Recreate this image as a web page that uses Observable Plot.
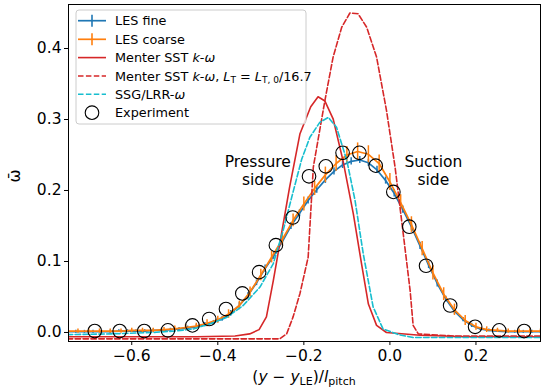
<!DOCTYPE html>
<html><head><meta charset="utf-8">
<script src="https://cdn.jsdelivr.net/npm/d3@7"></script>
<script src="https://cdn.jsdelivr.net/npm/@observablehq/plot@0.6"></script>
<style>
html,body{margin:0;padding:0;background:#fff;}
#chart{width:541px;height:392px;}
</style></head><body><div id="chart"></div>
<script>
// ---------- DATA ----------
const lesFineX = [-0.75,-0.73,-0.71,-0.69,-0.67,-0.65,-0.63,-0.61,-0.59,-0.57,-0.55,-0.53,-0.51,-0.49,-0.47,-0.45,-0.43,-0.41,-0.39,-0.37,-0.35,-0.33,-0.31,-0.29,-0.27,-0.25,-0.23,-0.21,-0.19,-0.17,-0.15,-0.13,-0.11,-0.09,-0.07,-0.05,-0.03,-0.01,0.01,0.03,0.05,0.07,0.09,0.11,0.13,0.15,0.17,0.19,0.21,0.23,0.25,0.27,0.29,0.31,0.33,0.35];
const lesFineY = [0.001,0.001,0.001,0.001,0.001,0.001,0.002,0.002,0.002,0.002,0.003,0.003,0.004,0.005,0.006,0.008,0.011,0.014,0.019,0.027,0.038,0.052,0.070,0.090,0.108,0.128,0.150,0.168,0.186,0.201,0.215,0.227,0.236,0.241,0.243,0.239,0.229,0.214,0.196,0.173,0.149,0.122,0.095,0.069,0.047,0.030,0.018,0.010,0.005,0.003,0.002,0.001,0.001,0.001,0.001,0.001];
const lesFineErr = [0.002,0.002,0.002,0.002,0.002,0.002,0.002,0.002,0.002,0.002,0.002,0.002,0.002,0.002,0.003,0.003,0.003,0.003,0.003,0.004,0.004,0.004,0.004,0.005,0.005,0.005,0.005,0.005,0.005,0.005,0.005,0.005,0.005,0.005,0.005,0.005,0.005,0.005,0.005,0.005,0.005,0.005,0.005,0.005,0.004,0.004,0.003,0.003,0.002,0.002,0.002,0.002,0.002,0.002,0.002,0.002];

const lesCoarseX = [-0.75,-0.725,-0.70,-0.675,-0.65,-0.625,-0.60,-0.575,-0.55,-0.525,-0.50,-0.475,-0.45,-0.425,-0.40,-0.375,-0.35,-0.325,-0.30,-0.275,-0.25,-0.225,-0.20,-0.175,-0.15,-0.125,-0.10,-0.075,-0.05,-0.025,0.0,0.025,0.05,0.075,0.10,0.125,0.15,0.175,0.20,0.225,0.25,0.275,0.30,0.325,0.35];
const lesCoarseY = [0.002,0.002,0.002,0.002,0.002,0.002,0.003,0.003,0.003,0.004,0.005,0.007,0.009,0.013,0.018,0.026,0.038,0.057,0.081,0.106,0.131,0.158,0.181,0.203,0.222,0.238,0.250,0.255,0.251,0.238,0.212,0.183,0.152,0.118,0.084,0.054,0.032,0.017,0.008,0.004,0.003,0.002,0.002,0.002,0.002];
const lesCoarseErr = [0.003,0.003,0.003,0.003,0.003,0.003,0.003,0.003,0.003,0.003,0.004,0.004,0.004,0.005,0.005,0.006,0.006,0.007,0.008,0.008,0.009,0.009,0.010,0.010,0.011,0.011,0.012,0.012,0.012,0.012,0.012,0.011,0.011,0.010,0.010,0.009,0.008,0.007,0.005,0.004,0.003,0.003,0.003,0.003,0.003];

const sstX = [-0.75,-0.60,-0.45,-0.36,-0.326,-0.304,-0.287,-0.271,-0.256,-0.233,-0.209,-0.184,-0.167,-0.151,-0.132,-0.109,-0.085,-0.066,-0.050,-0.031,-0.008,0.07,0.178,0.35];
const sstY = [-0.006,-0.006,-0.006,-0.005,-0.002,0.004,0.022,0.073,0.125,0.205,0.280,0.318,0.332,0.326,0.301,0.242,0.167,0.097,0.040,0.010,0.000,-0.004,-0.006,-0.006];

const sstLtX = [-0.75,-0.50,-0.30,-0.256,-0.240,-0.225,-0.209,-0.190,-0.178,-0.151,-0.132,-0.112,-0.093,-0.074,-0.054,-0.031,-0.008,0.012,0.031,0.047,0.054,0.066,0.15,0.35];
const sstLtY = [-0.009,-0.009,-0.009,-0.009,-0.002,0.022,0.055,0.106,0.233,0.327,0.388,0.430,0.450,0.449,0.430,0.388,0.313,0.233,0.139,0.059,0.010,-0.002,-0.005,-0.005];

const ssgX = [-0.75,-0.65,-0.55,-0.50,-0.457,-0.419,-0.380,-0.341,-0.302,-0.271,-0.248,-0.225,-0.205,-0.186,-0.163,-0.143,-0.124,-0.100,-0.081,-0.062,-0.039,-0.016,0.02,0.054,0.20,0.35];
const ssgY = [-0.003,-0.002,0.000,0.002,0.005,0.012,0.021,0.038,0.064,0.097,0.144,0.198,0.244,0.275,0.296,0.303,0.289,0.242,0.186,0.111,0.036,0.005,-0.003,-0.007,-0.007,-0.007];

const expX = [-0.686,-0.628,-0.571,-0.516,-0.459,-0.420,-0.381,-0.343,-0.304,-0.265,-0.226,-0.188,-0.149,-0.110,-0.071,-0.033,0.008,0.045,0.084,0.140,0.198,0.254,0.312];
const expY = [0.002,0.002,0.002,0.003,0.010,0.019,0.033,0.055,0.085,0.123,0.162,0.220,0.234,0.253,0.253,0.235,0.198,0.149,0.094,0.038,0.008,0.003,0.002];

const xTicks = [-0.6,-0.4,-0.2,0.0,0.2];
const yTicks = [0.0,0.1,0.2,0.3,0.4];

const notes = [
  {x: -0.307, y: 0.228, text: "Pressure\nside"},
  {x: 0.101, y: 0.228, text: "Suction\nside"}
];

// ---------- BUILD ----------
const zip = (xs, ys, es) => xs.map((x, i) => ({x, y: ys[i], e: es ? es[i] : 0}));
const fine = zip(lesFineX, lesFineY, lesFineErr);
const coarse = zip(lesCoarseX, lesCoarseY, lesCoarseErr);
const sst = zip(sstX, sstY);
const sstLt = zip(sstLtX, sstLtY);
const ssg = zip(ssgX, ssgY);
const exp = zip(expX, expY);

const C = {blue:"#1f77b4", orange:"#ff7f0e", red:"#d62728", cyan:"#17becf"};
const F = "DejaVu Sans, sans-serif";
const fmt = d3.format(".1f");

const plot = Plot.plot({
  width: 541, height: 392,
  marginLeft: 68, marginRight: 1, marginTop: 4, marginBottom: 51,
  style: {fontFamily: F, fontSize: "15.5px", color: "black", background: "white"},
  x: {domain: [-0.747, 0.35], label: null},
  y: {domain: [-0.0127, 0.462], label: null},
  marks: [
    Plot.line(fine, {x: "x", y: "y", stroke: C.blue, strokeWidth: 1.7, clip: true}),
    Plot.ruleX(fine, {x: "x", y1: d => d.y - d.e, y2: d => d.y + d.e, stroke: C.blue, strokeWidth: 1.5, clip: true}),
    Plot.line(coarse, {x: "x", y: "y", stroke: C.orange, strokeWidth: 1.7, clip: true}),
    Plot.ruleX(coarse, {x: "x", y1: d => d.y - d.e, y2: d => d.y + d.e, stroke: C.orange, strokeWidth: 1.5, clip: true}),
    Plot.line(sst, {x: "x", y: "y", stroke: C.red, strokeWidth: 1.6, clip: true}),
    Plot.line(sstLt, {x: "x", y: "y", stroke: C.red, strokeWidth: 1.6, strokeDasharray: "5.5,2.4", clip: true}),
    Plot.line(ssg, {x: "x", y: "y", stroke: C.cyan, strokeWidth: 1.6, strokeDasharray: "5.5,2.4", clip: true}),
    Plot.dot(exp, {x: "x", y: "y", r: 6.8, stroke: "black", strokeWidth: 1.1, fill: "none", clip: true}),
    Plot.text(notes, {x: "x", y: "y", text: "text", fontSize: 15.5, lineHeight: 1.17, fill: "black", textAnchor: "middle"}),
    Plot.axisX({ticks: xTicks, tickFormat: fmt, tickSize: 4, tickPadding: 4, fontSize: 15.5, label: null, stroke: "black"}),
    Plot.axisY({ticks: yTicks, tickFormat: fmt, tickSize: 4, tickPadding: 3, fontSize: 15.5, label: null, stroke: "black"}),
    Plot.frame({stroke: "black", strokeWidth: 1})
  ]
});
document.getElementById("chart").appendChild(plot);

// ---------- AXIS LABELS ----------
const svg = d3.select(plot);
const xl = svg.append("text").attr("x", 304).attr("y", 382).attr("text-anchor", "middle")
  .attr("font-family", F).attr("font-size", 15.5).attr("fill", "black");
xl.append("tspan").text("(");
xl.append("tspan").attr("font-style", "italic").text("y");
xl.append("tspan").text(" − ");
xl.append("tspan").attr("font-style", "italic").text("y");
xl.append("tspan").attr("font-size", 11).attr("dy", 3).text("LE");
xl.append("tspan").attr("dy", -3).text(")/");
xl.append("tspan").attr("font-style", "italic").text("l");
xl.append("tspan").attr("font-size", 11).attr("dy", 3).text("pitch");

svg.append("text").attr("transform", "translate(20,176) rotate(-90)")
  .attr("text-anchor", "middle").attr("font-family", F).attr("font-size", 15.5).attr("fill", "black")
  .text("ω\u0304");

// ---------- LEGEND ----------
const lg = svg.append("g").attr("font-family", F).attr("font-size", 12.8).attr("fill", "black").attr("text-anchor", "start");
lg.append("rect").attr("x", 76).attr("y", 10).attr("width", 230).attr("height", 114).attr("rx", 3)
  .attr("fill", "white").attr("fill-opacity", 0.8).attr("stroke", "#cccccc").attr("stroke-width", 1);
const rows = [20.7, 39.3, 57.6, 76, 94.3, 112.7];
const hx0 = 78, hx1 = 106, tx = 115;
// LES fine
lg.append("line").attr("x1", hx0).attr("x2", hx1).attr("y1", rows[0]).attr("y2", rows[0]).attr("stroke", C.blue).attr("stroke-width", 1.7);
lg.append("line").attr("x1", 92).attr("x2", 92).attr("y1", rows[0]-6).attr("y2", rows[0]+6).attr("stroke", C.blue).attr("stroke-width", 1.6);
// LES coarse
lg.append("line").attr("x1", hx0).attr("x2", hx1).attr("y1", rows[1]).attr("y2", rows[1]).attr("stroke", C.orange).attr("stroke-width", 1.7);
lg.append("line").attr("x1", 92).attr("x2", 92).attr("y1", rows[1]-6).attr("y2", rows[1]+6).attr("stroke", C.orange).attr("stroke-width", 1.6);
// SST
lg.append("line").attr("x1", hx0).attr("x2", hx1).attr("y1", rows[2]).attr("y2", rows[2]).attr("stroke", C.red).attr("stroke-width", 1.6);
lg.append("line").attr("x1", hx0).attr("x2", hx1).attr("y1", rows[3]).attr("y2", rows[3]).attr("stroke", C.red).attr("stroke-width", 1.6).attr("stroke-dasharray", "5.5,2.4");
lg.append("line").attr("x1", hx0).attr("x2", hx1).attr("y1", rows[4]).attr("y2", rows[4]).attr("stroke", C.cyan).attr("stroke-width", 1.6).attr("stroke-dasharray", "5.5,2.4");
lg.append("circle").attr("cx", 92).attr("cy", rows[5]).attr("r", 6.8).attr("fill", "none").attr("stroke", "black").attr("stroke-width", 1.1);

const addText = (i, parts) => {
  const t = lg.append("text").attr("x", tx).attr("y", rows[i]).attr("dy", "0.36em");
  parts.forEach(p => {
    const s = t.append("tspan").text(p.t);
    if (p.i) s.attr("font-style", "italic");
    if (p.sub) s.attr("font-size", 9).attr("dy", p.dy);
    else if (p.dy) s.attr("dy", p.dy);
  });
};
addText(0, [{t: "LES fine"}]);
addText(1, [{t: "LES coarse"}]);
addText(2, [{t: "Menter SST "}, {t: "k", i: true}, {t: "-"}, {t: "ω", i: true}]);
addText(3, [{t: "Menter SST "}, {t: "k", i: true}, {t: "-"}, {t: "ω", i: true}, {t: ", "}, {t: "L", i: true},
  {t: "T", sub: true, dy: 2.5}, {t: " = ", dy: -2.5}, {t: "L", i: true}, {t: "T, 0", sub: true, dy: 2.5}, {t: "/16.7", dy: -2.5}]);
addText(4, [{t: "SSG/LRR-"}, {t: "ω", i: true}]);
addText(5, [{t: "Experiment"}]);
</script></body></html>
